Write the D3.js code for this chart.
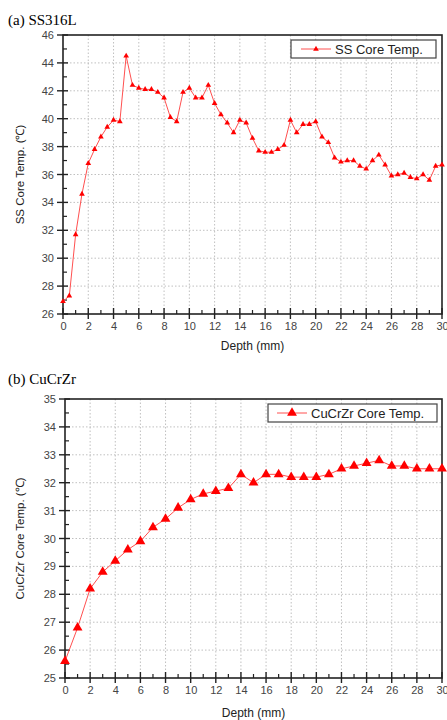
<!DOCTYPE html>
<html><head><meta charset="utf-8">
<script src="https://cdn.jsdelivr.net/npm/d3@7/dist/d3.min.js"></script>
<style>body{margin:0;background:#fff}svg{display:block}</style>
</head><body>
<svg id="c" width="447" height="720"></svg>
<script>
// ---- data ----
const ssDepth = [0,0.5,1,1.5,2,2.5,3,3.5,4,4.5,5,5.5,6,6.5,7,7.5,8,8.5,9,9.5,10,10.5,11,11.5,12,12.5,13,13.5,14,14.5,15,15.5,16,16.5,17,17.5,18,18.5,19,19.5,20,20.5,21,21.5,22,22.5,23,23.5,24,24.5,25,25.5,26,26.5,27,27.5,28,28.5,29,29.5,30];
const ssTemp = [26.9,27.3,31.7,34.6,36.8,37.8,38.7,39.4,39.9,39.8,
  44.5,42.4,42.2,42.1,42.1,41.9,41.5,40.1,39.8,41.9,
  42.2,41.5,41.5,42.4,41.1,40.3,39.7,39.0,39.9,39.7,
  38.6,37.7,37.6,37.6,37.8,38.1,39.9,39.0,39.6,39.6,
  39.8,38.7,38.3,37.2,36.9,37.0,37.0,36.6,36.4,37.0,
  37.4,36.7,35.9,36.0,36.1,35.8,35.7,36.0,35.6,36.6,36.7];
const cuDepth = [0,1,2,3,4,5,6,7,8,9,10,11,12,13,14,15,16,17,18,19,20,21,22,23,24,25,26,27,28,29,30];
const cuTemp = [25.6,26.8,28.2,28.8,29.2,29.6,29.9,30.4,30.7,31.1,31.4,31.6,31.7,31.8,32.3,32.0,32.3,32.3,32.2,32.2,32.2,32.3,32.5,32.6,32.7,32.8,32.6,32.6,32.5,32.5,32.5];
const xTicks = [0,2,4,6,8,10,12,14,16,18,20,22,24,26,28,30];
const xMinorTicks = [1,3,5,7,9,11,13,15,17,19,21,23,25,27,29];
const ssYTicks = [26,28,30,32,34,36,38,40,42,44,46];
const ssYMinor = [27,29,31,33,35,37,39,41,43,45];
const cuYTicks = [25,26,27,28,29,30,31,32,33,34,35];
const cuYMinor = [25.5,26.5,27.5,28.5,29.5,30.5,31.5,32.5,33.5,34.5];

const svg = d3.select('#c');
const sans = 'Liberation Sans, Arial, sans-serif';
const serif = 'Liberation Serif, Times New Roman, serif';
const red = '#ff0000';

function drawChart(o){
  const g = svg.append('g');
  const x = d3.scaleLinear().domain([0,30]).range([o.left,o.right]);
  const y = d3.scaleLinear().domain(o.yDomain).range([o.bottom,o.top]);

  g.append('text').attr('x',8).attr('y',o.titleY).attr('font-family',serif)
    .attr('font-size',15).attr('fill','#000').text(o.title);

  // grid
  g.selectAll('.gx').data(xTicks.slice(1,-1)).join('line')
    .attr('x1',d=>x(d)).attr('x2',d=>x(d)).attr('y1',o.top).attr('y2',o.bottom)
    .attr('stroke','#b0b0b0').attr('stroke-width',0.8).attr('stroke-dasharray','1.5,2');
  g.selectAll('.gy').data(o.yTicks.slice(1,-1)).join('line')
    .attr('x1',o.left).attr('x2',o.right).attr('y1',d=>y(d)).attr('y2',d=>y(d))
    .attr('stroke','#b0b0b0').attr('stroke-width',0.8).attr('stroke-dasharray','1.5,2');

  // frame
  g.append('rect').attr('x',o.left).attr('y',o.top).attr('width',o.right-o.left).attr('height',o.bottom-o.top)
    .attr('fill','none').attr('stroke','#222').attr('stroke-width',1.6);

  // x axis
  const xa = g.append('g').attr('transform',`translate(0,${o.bottom})`)
    .call(d3.axisBottom(x).tickValues(xTicks).tickSize(0).tickPadding(8).tickFormat(d3.format('d')));
  xa.select('.domain').remove();
  xa.selectAll('text').attr('font-family',sans).attr('font-size',11).attr('fill','#444');
  g.selectAll('.xt').data(xTicks).join('line')
    .attr('x1',d=>x(d)).attr('x2',d=>x(d)).attr('y1',o.bottom-6).attr('y2',o.bottom+5)
    .attr('stroke','#222').attr('stroke-width',1.4);
  g.selectAll('.xm').data(xMinorTicks).join('line')
    .attr('x1',d=>x(d)).attr('x2',d=>x(d)).attr('y1',o.bottom-4).attr('y2',o.bottom)
    .attr('stroke','#222').attr('stroke-width',1.2);

  // y axis
  const ya = g.append('g').attr('transform',`translate(${o.left},0)`)
    .call(d3.axisLeft(y).tickValues(o.yTicks).tickSize(0).tickPadding(9).tickFormat(d3.format('d')));
  ya.select('.domain').remove();
  ya.selectAll('text').attr('font-family',sans).attr('font-size',11).attr('fill','#444');
  g.selectAll('.yt').data(o.yTicks).join('line')
    .attr('x1',o.left-6).attr('x2',o.left+5).attr('y1',d=>y(d)).attr('y2',d=>y(d))
    .attr('stroke','#222').attr('stroke-width',1.4);
  g.selectAll('.ym').data(o.yMinor).join('line')
    .attr('x1',o.left).attr('x2',o.left+4).attr('y1',d=>y(d)).attr('y2',d=>y(d))
    .attr('stroke','#222').attr('stroke-width',1.2);

  // axis titles
  g.append('text').attr('x',(o.left+o.right)/2).attr('y',o.xTitleY).attr('text-anchor','middle')
    .attr('font-family',sans).attr('font-size',12).attr('fill','#222').text('Depth (mm)');
  g.append('text').attr('transform',`translate(24,${(o.top+o.bottom)/2}) rotate(-90)`)
    .attr('text-anchor','middle').attr('font-family',sans).attr('font-size',11.5).attr('fill','#222').text(o.yTitle);

  // line
  const pts = o.xs.map((d,i)=>[d,o.ys[i]]);
  g.append('path').datum(pts).attr('fill','none').attr('stroke','#ff5050').attr('stroke-width',1)
    .attr('d',d3.line().x(d=>x(d[0])).y(d=>y(d[1])));
  const tri = d3.symbol().type(d3.symbolTriangle).size(o.mSize);
  g.selectAll('.m').data(pts).join('path')
    .attr('transform',d=>`translate(${x(d[0])},${y(d[1])})`).attr('d',tri).attr('fill',red);

  // legend
  const L = o.legend;
  g.append('rect').attr('x',L.x).attr('y',L.y).attr('width',L.w).attr('height',L.h)
    .attr('fill','#fff').attr('stroke','#444').attr('stroke-width',1.2);
  g.append('line').attr('x1',L.x+L.l0).attr('x2',L.x+L.l0+30).attr('y1',L.y+L.h/2).attr('y2',L.y+L.h/2)
    .attr('stroke','#ff5050').attr('stroke-width',1);
  g.append('path').attr('transform',`translate(${L.x+L.l0+15},${L.y+L.h/2})`).attr('d',tri).attr('fill',red);
  g.append('text').attr('x',L.x+L.l0+34).attr('y',L.y+L.h/2+4.5).attr('font-family',sans)
    .attr('font-size',13).attr('fill','#222').text(o.legendText);
}

drawChart({title:'(a) SS316L', titleY:25, left:63, right:442, top:35, bottom:314,
  yDomain:[26,46], yTicks:ssYTicks, yMinor:ssYMinor, xs:ssDepth, ys:ssTemp, mSize:14,
  xTitleY:350, yTitle:'SS Core Temp. (℃)',
  legend:{x:291,y:40,w:145,h:18,l0:10}, legendText:'SS Core Temp.'});

drawChart({title:'(b) CuCrZr', titleY:384, left:65, right:442, top:399, bottom:678,
  yDomain:[25,35], yTicks:cuYTicks, yMinor:cuYMinor, xs:cuDepth, ys:cuTemp, mSize:42,
  xTitleY:717, yTitle:'CuCrZr Core Temp. (℃)',
  legend:{x:268,y:404,w:169,h:18,l0:9}, legendText:'CuCrZr Core Temp.'});
</script>
</body></html>
